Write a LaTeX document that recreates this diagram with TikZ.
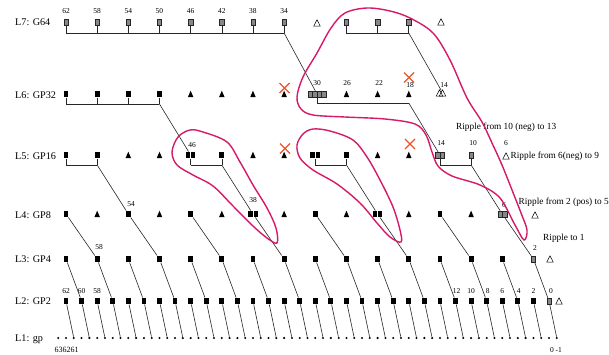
\documentclass[tikz,border=0pt]{standalone}
\usepackage{fontspec}
\setmainfont{Liberation Serif}
\usetikzlibrary{calc}
\definecolor{loopc}{RGB}{215,25,105}
\definecolor{xred}{RGB}{236,84,44}
\definecolor{sqgrey}{RGB}{135,135,135}
\newcommand{\colx}[1]{(66+31.161*(#1))}
\newcommand{\bitx}[1]{(66+7.7903*(62-(#1)))}
\tikzset{
  sq/.style={rectangle, fill=black, minimum width=4.8pt, minimum height=6.6pt, inner sep=0pt},
  gsq/.style={rectangle, fill=sqgrey, draw=black!85, line width=0.5pt, minimum width=4.4pt, minimum height=6pt, inner sep=0pt},
  dsq/.style={rectangle, fill=black, minimum width=9.6pt, minimum height=6.6pt, inner sep=0pt,
    path picture={\draw[white, line width=0.5pt] (path picture bounding box.north) -- (path picture bounding box.south);}},
  gdsq/.style={rectangle, fill=sqgrey, draw=black!85, line width=0.5pt, minimum width=9pt, minimum height=6pt, inner sep=0pt,
    path picture={\draw[black!85, line width=0.5pt] (path picture bounding box.north) -- (path picture bounding box.south);}},
  cluster/.style={rectangle, fill=sqgrey, draw=black!85, line width=0.5pt, minimum width=18pt, minimum height=6pt, inner sep=0pt,
    path picture={\foreach \f in {0.25,0.5,0.75}{\draw[black!85, line width=0.5pt] ($(path picture bounding box.north west)!\f!(path picture bounding box.north east)$) -- ($(path picture bounding box.south west)!\f!(path picture bounding box.south east)$);}}},
  dot/.style={circle, fill=black, minimum size=2.3pt, inner sep=0pt},
  wire/.style={line width=0.6pt, black!85},
  lbl/.style={font=\fontsize{7.5}{8}\selectfont, inner sep=0pt},
  lvl/.style={font=\fontsize{10.2}{12}\selectfont, anchor=west, inner sep=0pt},
  note/.style={font=\fontsize{9.3}{11}\selectfont, anchor=west, inner sep=0pt},
  loopline/.style={loopc, line width=1.4pt},
  trib/.pic={\fill[black] (-2.7,3) -- (2.7,3) -- (0,-3.3) -- cycle;},
  trio/.pic={\draw[black, line width=0.5pt] (-3.2,3) -- (3.2,3) -- (0,-3.2) -- cycle;},
  xx/.pic={\draw[xred, line width=1.1pt] (-5,-5) -- (5,5) (-5,5) -- (5,-5);},
}
\begin{document}
\begin{tikzpicture}[x=1pt,y=-1pt]
\fill[white] (0,0) rectangle (609,354);
\useasboundingbox (0,0) rectangle (609,354);

% ---------- level labels
\node[lvl] (lab7) at (15,22) {L7: G64};
\node[lvl] (lab6) at (15,95) {L6: GP32};
\node[lvl] (lab5) at (15,156) {L5: GP16};
\node[lvl] (lab4) at (15,215) {L4: GP8};
\node[lvl] (lab3) at (15,259) {L3: GP4};
\node[lvl] (lab2) at (15,301) {L2: GP2};
\node[lvl] (lab1) at (15,339) {L1: gp};

% ---------- L1 dots
\foreach \b in {-1,...,63} \node[dot] (p\b) at ({\bitx{\b}},338) {};
\node[lbl, font=\fontsize{8}{9}\selectfont] (l1a) at (66.5,350) {636261};
\node[lbl] (l1b) at (556,350) {0 -1};

% ---------- L2
\foreach \b in {2,4,...,62} \node[sq] (s2-\b) at ({\bitx{\b}},301) {};
\node[gsq] (s2-0) at ({\bitx{0}},301) {};
\pic at (559,301) {trio};
\foreach \b in {0,2,...,62} {
  \pgfmathtruncatemacro\bb{\b-1}
  \draw[wire] (s2-\b) -- (p\bb);
}
\foreach \b/\dx in {62/0,60/0,58/0,12/1,10/0,8/1,6/0,4/1,2/0,0/2}
  \node[lbl] (n2-\b) at ({\bitx{\b}+\dx},291) {\b};

% ---------- L3
\foreach \j in {0,...,14} \node[sq] (s3-\j) at ({\colx{\j}},259) {};
\node[gsq] (s3-15) at ({\colx{15}},259) {};
\pic at (550,259) {trio};
\foreach \j in {0,...,15} {
  \pgfmathtruncatemacro\tb{60-4*\j}
  \draw[wire] (s3-\j) -- (s2-\tb);
}
\node[lbl] (n3a) at (99,247) {58};
\node[lbl] (n3b) at (535,248) {2};

% ---------- L4
\foreach \j in {0,2,4,8,12} \node[sq] (s4-\j) at ({\colx{\j}},214) {};
\foreach \j in {6,10} \node[dsq] (s4-\j) at ({\colx{\j}},214) {};
\node[gdsq] (s4-14) at ({\colx{14}},214) {};
\foreach \j in {1,3,5,7,9,11,13} \pic at ({\colx{\j}},214) {trib};
\pic at (535,215) {trio};
\foreach \j in {0,2,4,6,8,10,12,14} {
  \pgfmathtruncatemacro\k{\j+1}
  \draw[wire] (s4-\j) -- (s3-\k);
}
\node[lbl] (n4a) at (131,204) {54};
\node[lbl] (n4b) at (253,200) {38};
\node[lbl] (n4c) at (504,205) {6};

% ---------- L5
\foreach \j in {0,1,5,9} \node[sq] (s5-\j) at ({\colx{\j}},155) {};
\foreach \j in {4,8} \node[dsq] (s5-\j) at ({\colx{\j}},155) {};
\node[gdsq] (s5-12) at ({\colx{12}},155) {};
\node[gsq] (s5-13) at ({\colx{13}},155) {};
\foreach \j in {2,3,6,7,10,11} \pic at ({\colx{\j}},155) {trib};
\pic at (506,156) {trio};
\foreach \j in {0,1,4,5,8,9,12,13} \draw[wire] (s5-\j.south) -- ({\colx{\j}},165);
\draw[wire] ({\colx{0}},165) -- ({\colx{1}},165) coordinate (b5a);
\draw[wire] ({\colx{4}},165) -- ({\colx{5}},165) coordinate (b5b);
\draw[wire] ({\colx{8}},165) -- ({\colx{9}},165) coordinate (b5c);
\draw[wire] ({\colx{12}},165) -- ({\colx{13}},165) coordinate (b5d);
\draw[wire] (b5a) -- (s4-2);
\draw[wire] (b5b) -- (s4-6);
\draw[wire] (b5c) -- (s4-10);
\draw[wire] (b5d) -- (s4-14);
\node[lbl] (n5a) at (192,145) {46};
\node[lbl] (n5b) at (441,143) {14};
\node[lbl] (n5c) at (473,143) {10};
\node[lbl] (n5d) at (506,143) {6};

% ---------- L6
\foreach \j in {0,...,3} \node[sq] (s6-\j) at ({\colx{\j}},94) {};
\node[cluster] (s6-8) at (317,94) {};
\foreach \j in {4,5,6,7,9,10,11} \pic at ({\colx{\j}},94) {trib};
\pic at (439.5,93) {trio};
\pic at (442.5,93) {trio};
\coordinate (t6-12) at (441,90);
\foreach \j in {0,...,3} \draw[wire] (s6-\j.south) -- ({\colx{\j}},104);
\draw[wire] ({\colx{0}},104) -- ({\colx{3}},104) coordinate (b6a);
\draw[wire] (317,97) -- (317,103) -- ({\colx{11}},103) coordinate (b6b);
\draw[wire] (b6a) -- (s5-4);
\draw[wire] (b6b) -- (s5-12);
\node[lbl] (n6a) at (317,83) {30};
\node[lbl] (n6b) at (347,83) {26};
\node[lbl] (n6c) at (379,83) {22};
\node[lbl] (n6d) at (410,85) {18};
\node[lbl] (n6e) at (444,85) {14};

% ---------- L7
\foreach \j in {0,1,2,3,4,5,6,7,9,10,11} \node[gsq] (s7-\j) at ({\colx{\j}},22) {};
\pic at (317,23) {trio};
\pic at (441,22) {trio};
\foreach \j in {0,1,2,3,4,5,6,7,9,10,11} \draw[wire] (s7-\j.south) -- ({\colx{\j}},33);
\draw[wire] ({\colx{0}},33) -- ({\colx{7}},33) coordinate (b7a);
\draw[wire] ({\colx{9}},33) -- ({\colx{11}},33) coordinate (b7b);
\draw[wire] (b7a) -- (s6-8);
\draw[wire] (b7b) -- (t6-12);
\foreach \j in {0,...,7} {
  \pgfmathtruncatemacro\v{62-4*\j}
  \node[lbl] (n7-\j) at ({\colx{\j}},11) {\v};
}

% ---------- red crosses
\pic at (284.5,88) {xx};
\pic at (409,77.5) {xx};
\pic at (285,148.5) {xx};
\pic at (410,144) {xx};

% ---------- notes
\node[note] (r1) at (456,127) {Ripple from 10 (neg) to 13};
\node[note] (r2) at (510.5,156) {Ripple from 6(neg) to 9};
\node[note] (r3) at (518.5,202) {Ripple from 2 (pos) to 5};
\node[note] (r4) at (543,238) {Ripple to 1};

% ---------- loops
\draw[loopline] plot[smooth cycle, tension=0.55] coordinates {
 (367,8) (390,11) (410,18) (433,33) (450,60) (467,98) (482,122) (492,143)
 (502,165) (512,190) (521,213) (527,230) (524,240) (515,225) (500,198)
 (480,185) (452,176) (438,166) (432,152) (426,135) (415,124) (385,119)
 (345,117) (313,115) (301,109) (297,97) (303,77) (317,53) (331,28) (345,13)};
\draw[loopline] plot[smooth cycle, tension=0.55] coordinates {
 (190,130) (203,132) (227,142) (240,162) (253,185) (267,208) (276,228) (277,243)
 (267,238) (253,226) (233,206) (213,186) (193,175) (177,165) (172,152) (178,137)};
\draw[loopline] plot[smooth cycle, tension=0.55] coordinates {
 (313,129) (330,131) (353,140) (367,157) (380,180) (393,207) (400,230) (401,242)
 (390,237) (377,223) (360,203) (337,184) (313,170) (300,158) (297,145) (303,134)};
\end{tikzpicture}
\end{document}
